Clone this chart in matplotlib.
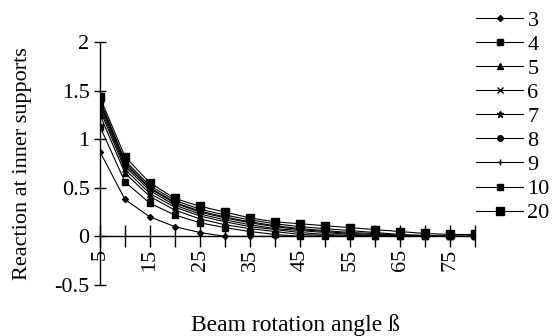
import matplotlib.pyplot as plt

angles = [5, 10, 15, 20, 25, 30, 35, 40, 45, 50, 55, 60, 65, 70, 75, 80]
tick_labels = ['5', '', '15', '', '25', '', '35', '', '45', '', '55', '', '65', '', '75', '']

n3 = [0.87, 0.38, 0.20, 0.10, 0.04, 0.00, 0, 0, 0, 0, 0, 0, 0, 0, 0, 0]
n4 = [1.13, 0.56, 0.34, 0.22, 0.14, 0.09, 0.05, 0.02, 0.00, 0, 0, 0, 0, 0, 0, 0]
n5 = [1.25, 0.65, 0.41, 0.27, 0.18, 0.12, 0.08, 0.05, 0.02, 0.01, 0, 0, 0, 0, 0, 0]
n6 = [1.30, 0.69, 0.44, 0.30, 0.21, 0.15, 0.10, 0.07, 0.04, 0.02, 0.01, 0, 0, 0, 0, 0]
n7 = [1.33, 0.72, 0.47, 0.32, 0.23, 0.17, 0.12, 0.08, 0.06, 0.04, 0.02, 0.01, 0, 0, 0, 0]
n8 = [1.36, 0.74, 0.49, 0.34, 0.25, 0.19, 0.14, 0.10, 0.07, 0.05, 0.03, 0.02, 0.01, 0, 0, 0]
n9 = [1.38, 0.76, 0.50, 0.35, 0.26, 0.20, 0.15, 0.11, 0.08, 0.06, 0.04, 0.03, 0.01, 0, 0, 0]
n10 = [1.40, 0.78, 0.52, 0.37, 0.28, 0.22, 0.17, 0.13, 0.10, 0.08, 0.06, 0.04, 0.02, 0.01, 0, 0]
n20 = [1.43, 0.82, 0.55, 0.39, 0.31, 0.25, 0.19, 0.15, 0.13, 0.11, 0.09, 0.07, 0.05, 0.03, 0.02, 0.02]

series = [('3', n3, 'D', 3), ('4', n4, 's', 4), ('5', n5, '^', 4), ('6', n6, 'x', 4),
          ('7', n7, '*', 5), ('8', n8, 'o', 4), ('9', n9, '+', 5), ('10', n10, 's', 4),
          ('20', n20, 's', 6)]

plt.rcParams['font.family'] = 'Liberation Serif'

fig = plt.figure(figsize=(5.53, 3.36), dpi=100)
ax = fig.add_axes([100/553, 1 - 285/336, 375/553, 243/336])

for name, vals, mk, ms in series:
    ax.plot(angles, vals, color='black', lw=0.8, marker=mk, markersize=ms,
            markeredgewidth=1, label=name)

ax.set_xlim(5, 80)
ax.set_ylim(-0.5, 2)
ax.set_yticks([-0.5, 0, 0.5, 1, 1.5, 2])
ax.set_yticklabels(['-0.5', '0', '0.5', '1', '1.5', '2'])
ax.set_xticks(angles)
ax.set_xticklabels(tick_labels)

for s in ['top', 'right']:
    ax.spines[s].set_visible(False)
ax.spines['bottom'].set_position(('data', 0))
ax.spines['left'].set_linewidth(1)
ax.spines['bottom'].set_linewidth(1)
ax.tick_params(axis='x', direction='inout', length=16, width=1, labelsize=16,
               labelrotation=90, pad=1)
ax.tick_params(axis='y', direction='inout', length=9, width=1, labelsize=16, pad=3)
ax.set_ylabel('Reaction at inner supports', fontsize=16, labelpad=16)
fig.text(0.535, 0.015, 'Beam rotation angle ß', ha='center', fontsize=17)

ax.legend(loc='upper left', bbox_to_anchor=(463/553, 1.01), bbox_transform=fig.transFigure,
          frameon=False, fontsize=16, handlelength=2.1, handletextpad=0.2,
          labelspacing=0.16, borderaxespad=0.2)

fig.savefig('out.png', dpi=100)
